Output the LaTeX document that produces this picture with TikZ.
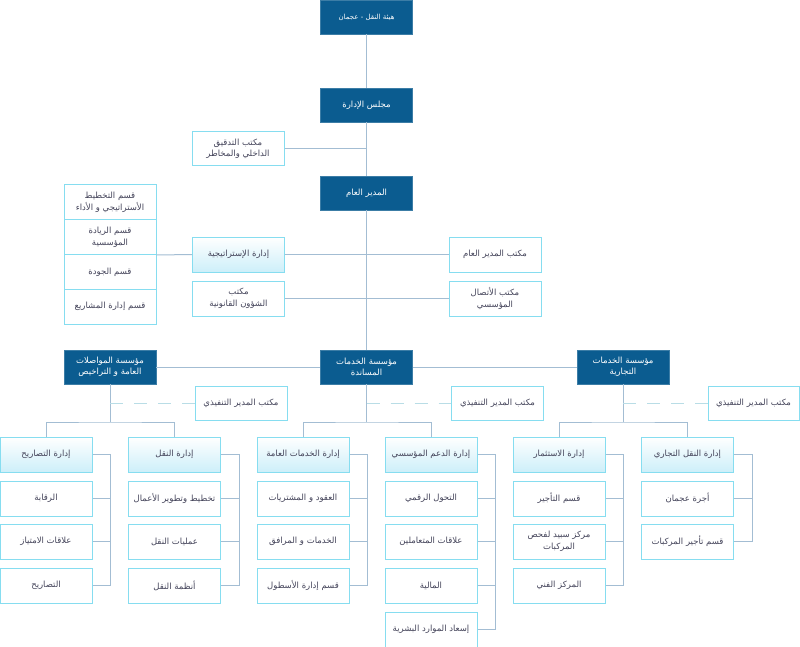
\documentclass[tikz,border=0pt]{standalone}
\usepackage{fontspec}
\newfontfamily\arabicfont[Script=Arabic]{DejaVu Sans}
\TeXXeTstate=1
\usetikzlibrary{calc}
\newcommand{\artx}[1]{\beginR #1\endR}
\definecolor{navy}{HTML}{0B5C90}
\definecolor{cyb}{HTML}{86DDF0}
\definecolor{lnc}{HTML}{A3BDD3}
\definecolor{dshc}{HTML}{B9DDE6}
\definecolor{txc}{HTML}{44445A}
\definecolor{grad}{HTML}{CDEFF9}
\tikzset{
  box/.style={rectangle, minimum width=92pt, minimum height=35pt, inner sep=1pt, align=center,
    font=\arabicfont\fontsize{8.5}{11.5}\selectfont},
  darkbox/.style={box, fill=navy, draw=navy!80!white, line width=0.8pt, text=white},
  litebox/.style={box, fill=white, draw=cyb, line width=1pt, text=txc},
  headbox/.style={litebox, top color=white, bottom color=grad},
  conn/.style={draw=lnc, line width=1pt},
  dashconn/.style={draw=dshc, line width=1pt, dash pattern=on 13pt off 11pt},
}
\begin{document}
\begin{tikzpicture}[x=1pt,y=-1pt]
\useasboundingbox (0,0) rectangle (800,647);
\fill[white] (0,0) rectangle (800,647);
% top levels
\node[darkbox, minimum height=34pt, font=\arabicfont\fontsize{7}{9}\selectfont] (top) at (366.5,17) {\artx{هيئة النقل - عجمان}};
\node[darkbox, minimum height=34pt] (board) at (366.5,105) {\artx{مجلس الإدارة}};
\node[litebox, minimum height=34pt] (audit) at (238,149) {\artx{مكتب التدقيق}\\\artx{الداخلي والمخاطر}};
\node[darkbox, minimum height=34pt] (gm) at (366.5,193) {\artx{المدير العام}};
% strategy stack
\node[litebox, minimum height=34.75pt] (s1) at (110,202.375) {\artx{قسم التخطيط}\\\artx{الأستراتيجي و الأداء}};
\node[litebox, minimum height=34.75pt] (s2) at (110,237.125) {\artx{قسم الريادة}\\\artx{المؤسسية}};
\node[litebox, minimum height=34.75pt] (s3) at (110,271.875) {\artx{قسم الجودة}};
\node[litebox, minimum height=34.75pt] (s4) at (110,306.625) {\artx{قسم إدارة المشاريع}};
\node[headbox] (strat) at (238.5,254.5) {\artx{إدارة الإستراتيجية}};
\node[litebox] (gmo) at (495,254.5) {\artx{مكتب المدير العام}};
\node[litebox] (legal) at (238.5,298.5) {\artx{مكتب}\\\artx{الشؤون القانونية}};
\node[litebox] (comm) at (495,298.5) {\artx{مكتب الأتصال}\\\artx{المؤسسي}};
% corporations
\node[darkbox, minimum height=34pt] (corpL) at (110,367) {\artx{مؤسسة المواصلات}\\\artx{العامة و التراخيص}};
\node[darkbox, minimum height=34pt] (corpS) at (366.5,367) {\artx{مؤسسة الخدمات}\\\artx{المساندة}};
\node[darkbox, minimum height=34pt] (corpC) at (623,367) {\artx{مؤسسة الخدمات}\\\artx{التجارية}};
\node[litebox, minimum height=34pt] (execL) at (241,403) {\artx{مكتب المدير التنفيذي}};
\node[litebox, minimum height=34pt] (execS) at (497.5,403) {\artx{مكتب المدير التنفيذي}};
\node[litebox, minimum height=34pt, minimum width=91pt] (execR) at (753.5,403) {\artx{مكتب المدير التنفيذي}};
% departments
\node[headbox] (t0) at (46,454.5) {\artx{إدارة التصاريح}};
\node[litebox] (t1) at (46,498.5) {\artx{الرقابة}};
\node[litebox] (t2) at (46,541.5) {\artx{علاقات الامتياز}};
\node[litebox] (t3) at (46,585.5) {\artx{التصاريح}};
\node[headbox] (n0) at (174.5,454.5) {\artx{إدارة النقل}};
\node[litebox] (n1) at (174.5,498.5) {\artx{تخطيط وتطوير الأعمال}};
\node[litebox] (n2) at (174.5,541.5) {\artx{عمليات النقل}};
\node[litebox] (n3) at (174.5,585.5) {\artx{أنظمة النقل}};
\node[headbox] (k0) at (303,454.5) {\artx{إدارة الخدمات العامة}};
\node[litebox] (k1) at (303,498.5) {\artx{العقود و المشتريات}};
\node[litebox] (k2) at (303,541.5) {\artx{الخدمات و المرافق}};
\node[litebox] (k3) at (303,585.5) {\artx{قسم إدارة الأسطول}};
\node[headbox] (d0) at (431,454.5) {\artx{إدارة الدعم المؤسسي}};
\node[litebox] (d1) at (431,498.5) {\artx{التحول الرقمي}};
\node[litebox] (d2) at (431,541.5) {\artx{علاقات المتعاملين}};
\node[litebox] (d3) at (431,585.5) {\artx{المالية}};
\node[litebox] (d4) at (431,629.5) {\artx{إسعاد الموارد البشرية}};
\node[headbox] (i0) at (559,454.5) {\artx{إدارة الاستثمار}};
\node[litebox] (i1) at (559,498.5) {\artx{قسم التأجير}};
\node[litebox] (i2) at (559,541.5) {\artx{مركز سبيد لفحص}\\\artx{المركبات}};
\node[litebox] (i3) at (559,585.5) {\artx{المركز الفني}};
\node[headbox] (j0) at (687.5,454.5) {\artx{إدارة النقل التجاري}};
\node[litebox] (j1) at (687.5,498.5) {\artx{أجرة عجمان}};
\node[litebox] (j2) at (687.5,541.5) {\artx{قسم تأجير المركبات}};
% junctions
\coordinate (jL) at (110,422);
\coordinate (jS) at (366.5,422);
\coordinate (jC) at (623,422);
\coordinate (bT) at (110,0);
\coordinate (bN) at (239,0);
\coordinate (bK) at (367,0);
\coordinate (bD) at (495,0);
\coordinate (bI) at (623,0);
\coordinate (bJ) at (752,0);
% main spine
\draw[conn] (top) -- (board);
\draw[conn] (board) -- (gm);
\draw[conn] (gm) -- (corpS);
\draw[conn] (audit.east) -- (audit.east -| gm);
\draw[conn] (s2.south east) -- (strat.west);
\draw[conn] (strat.east) -- (gmo.west);
\draw[conn] (legal.east) -- (comm.west);
\draw[conn] (corpL.east) -- (corpS.west);
\draw[conn] (corpS.east) -- (corpC.west);
% branches
\draw[conn] (corpL) -- (jL);
\draw[conn] (t0.north) |- (jL) -| (n0.north);
\draw[conn] (corpS) -- (jS);
\draw[conn] (k0.north) |- (jS) -| (d0.north);
\draw[conn] (corpC) -- (jC);
\draw[conn] (i0.north) |- (jC) -| (j0.north);
\draw[dashconn] (jL |- execL) -- (execL.west);
\draw[dashconn] (jS |- execS) -- (execS.west);
\draw[dashconn] (jC |- execR) -- (execR.west);
% brackets
\draw[conn] (t0.east) -| (t3.east -| bT);
\foreach \s in {t1,t2,t3} \draw[conn] (\s.east) -- (\s.east -| bT);
\draw[conn] (n0.east) -| (n3.east -| bN);
\foreach \s in {n1,n2,n3} \draw[conn] (\s.east) -- (\s.east -| bN);
\draw[conn] (k0.east) -| (k3.east -| bK);
\foreach \s in {k1,k2,k3} \draw[conn] (\s.east) -- (\s.east -| bK);
\draw[conn] (d0.east) -| (d4.east -| bD);
\foreach \s in {d1,d2,d3,d4} \draw[conn] (\s.east) -- (\s.east -| bD);
\draw[conn] (i0.east) -| (i3.east -| bI);
\foreach \s in {i1,i2,i3} \draw[conn] (\s.east) -- (\s.east -| bI);
\draw[conn] (j0.east) -| (j2.east -| bJ);
\foreach \s in {j1,j2} \draw[conn] (\s.east) -- (\s.east -| bJ);
\end{tikzpicture}
\end{document}
